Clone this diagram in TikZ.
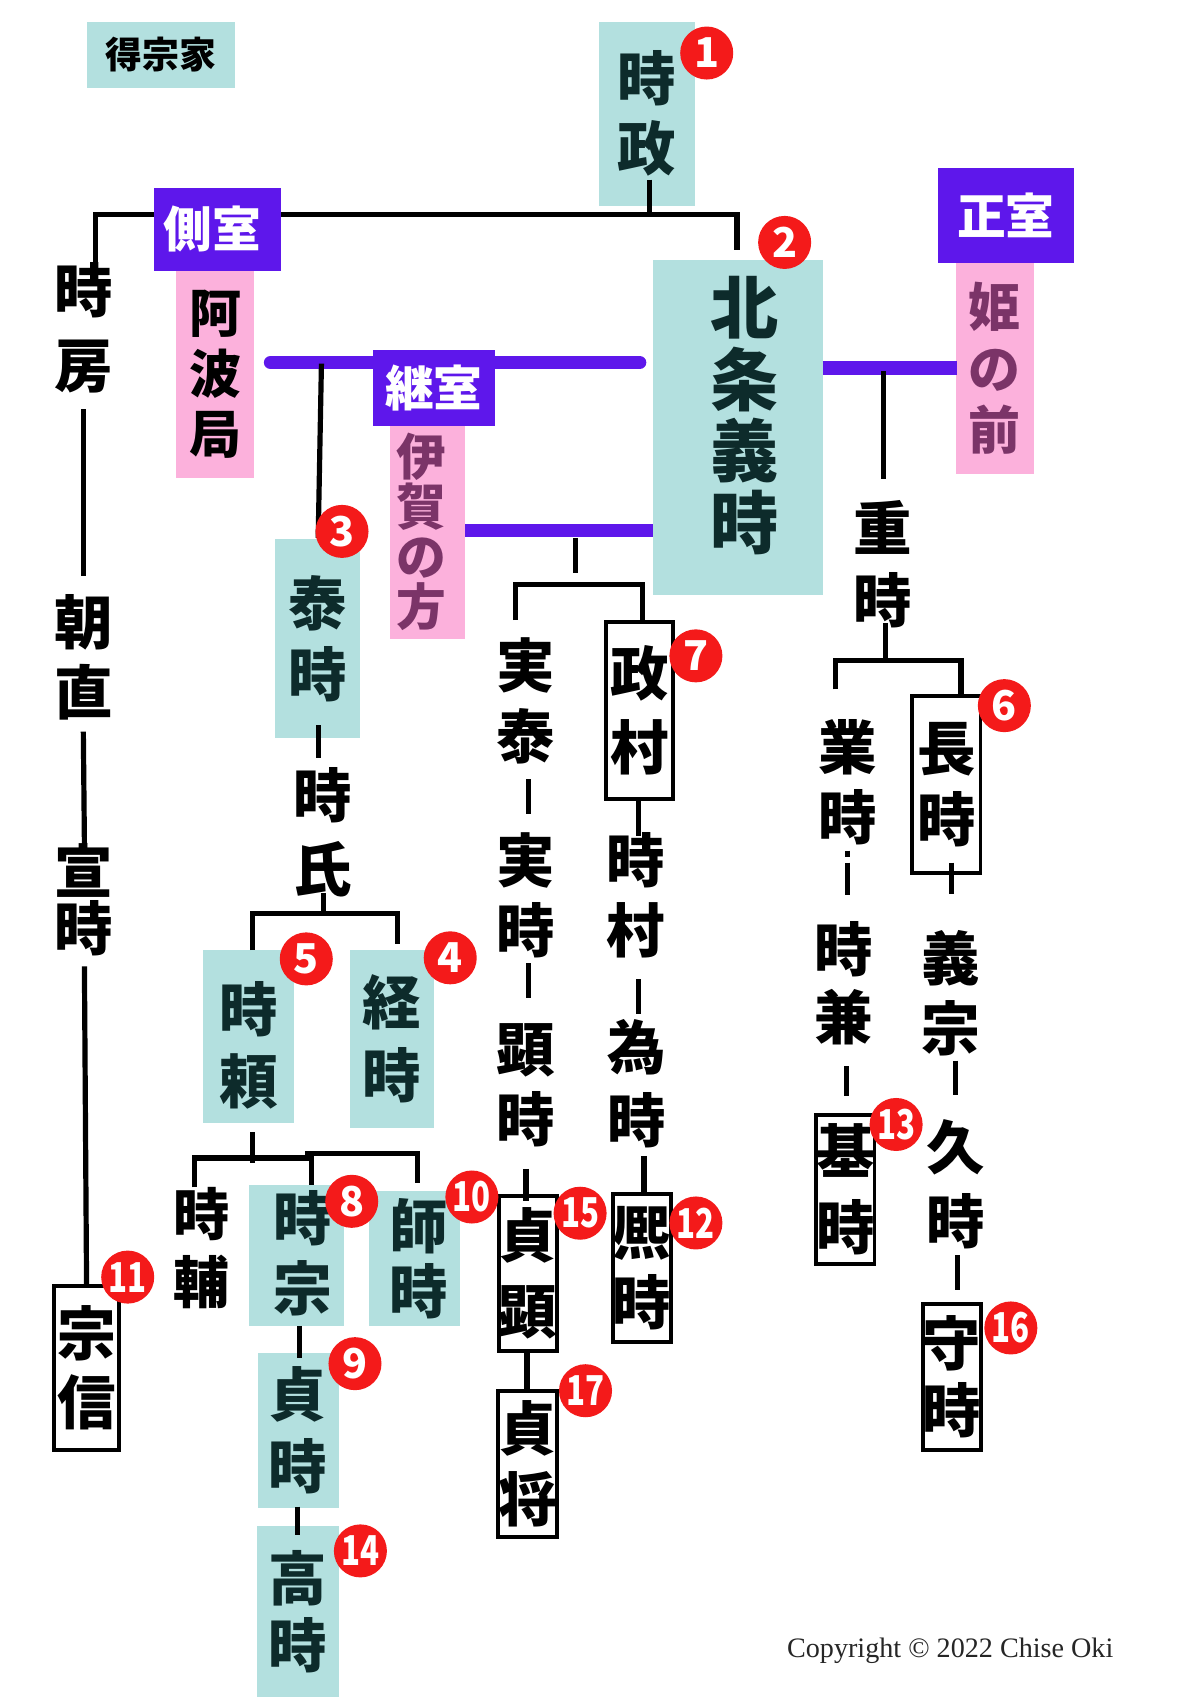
\documentclass[tikz,border=0pt]{standalone}
\usepackage{fontspec}
\setmainfont{Liberation Serif}
\newfontfamily\jp{Noto Sans CJK JP}
\definecolor{tealc}{HTML}{B3E0DF}
\definecolor{tealtext}{HTML}{0D2B2B}
\definecolor{pinkc}{HTML}{FCB1DC}
\definecolor{pinktext}{HTML}{7B3468}
\definecolor{purpc}{HTML}{5E17EB}
\definecolor{badgered}{HTML}{F41A1A}
\tikzset{
  fs/.style 2 args={font=\jp\bfseries\fontsize{#1}{#2}\selectfont},
  tealbox/.style={fill=tealc, inner sep=0pt, align=center, text=tealtext},
  pinkbox/.style={fill=pinkc, inner sep=0pt, align=center, text=pinktext},
  purpbox/.style={fill=purpc, inner sep=0pt, align=center, text=white},
  nm/.style={inner sep=0pt, align=center, text=black},
  framed/.style={draw=black, line width=1.8pt, inner sep=0pt, align=center, text=black},
  badge/.style={circle, fill=badgered, text=white, minimum size=24.5pt, inner sep=0pt, fs={19}{19}},
  conn/.style={line width=2.4pt, black},
  spouse/.style={line width=6.2pt, purpc},
}
\newcommand\twod[1]{\scalebox{0.76}[1]{#1}}
\begin{document}
\begin{tikzpicture}[x=0.5pt,y=-0.5pt]
\useasboundingbox (0,0) rectangle (1109,1568);
\fill[white] (0,0) rectangle (1109,1568);

% ---- coloured boxes
\node[tealbox, text=black, minimum width=68.5pt, minimum height=30.5pt, fs={17}{17}] (tokuso) at (148.5,50.5) {得宗家};
\node[tealbox, minimum width=44.5pt, minimum height=85pt, fs={27}{32.5}] (tokimasa) at (597.5,105) {時\\政};
\node[tealbox, minimum width=78.5pt, minimum height=155pt] (yoshitoki) at (681.5,395) {};
\node[nm, text=tealtext, fs={31.5}{33}] (yoshitoki-t) at (688,384) {北\\条\\義\\時};
\node[tealbox, minimum width=39.5pt, minimum height=92pt, fs={27}{33}] (yasutoki) at (293.5,590) {泰\\時};
\node[tealbox, minimum width=42pt, minimum height=80pt] (tokiyori) at (230,958) {};
\node[nm, text=tealtext, fs={27}{33.5}] (tokiyori-t) at (230,966) {時\\頼};
\node[tealbox, minimum width=39pt, minimum height=82pt, fs={27}{34}] (tsunetoki) at (362,960) {経\\時};
\node[tealbox, minimum width=44pt, minimum height=65pt] (tokimune) at (274,1160) {};
\node[nm, text=tealtext, fs={27}{32.5}] (tokimune-t) at (280,1158) {時\\宗};
\node[tealbox, minimum width=42pt, minimum height=62.5pt] (morotoki) at (383,1162.5) {};
\node[nm, text=tealtext, fs={27}{30}] (morotoki-t) at (387,1163) {師\\時};
\node[tealbox, minimum width=37.5pt, minimum height=71.5pt, fs={27}{33.5}] (sadatoki) at (275.5,1321.5) {貞\\時};
\node[tealbox, minimum width=38pt, minimum height=79pt, fs={27}{31}] (takatoki) at (275,1489) {高\\時};

\node[pinkbox, text=black, minimum width=36pt, minimum height=96pt, fs={24}{28}] (awa) at (199,346) {阿\\波\\局};
\node[pinkbox, minimum width=35pt, minimum height=98.5pt] (iga) at (395,491.5) {};
\node[nm, text=pinktext, fs={23}{23}] (iga-t) at (389,491.5) {伊\\賀\\の\\方};
\node[pinkbox, minimum width=36pt, minimum height=97.5pt, fs={24}{28.5}] (hime) at (919,340.5) {姫\\の\\前};

% ---- junction points
\coordinate (jtop) at (600,198);
\coordinate (jtl) at (88,198);
\coordinate (jtr) at (681,198);

% ---- connectors
\draw[conn] (600,166) -- (jtop);
\draw[conn] (88,245) -- (jtl) -- (jtr) -- (681,231);
\draw[conn] (77,378) -- (77,532);
\draw[conn] (77,676) -- (78,780);
\draw[conn] (78,893) -- (80,1190);

\draw[spouse, line cap=round] (250,335) -- (591,335);
\draw[spouse] (430,490) -- (603,490);
\draw[spouse] (760,340) -- (884,340);

\draw[conn] (297,336) -- (294,497);
\draw[conn] (294,670) -- (294,700);
\draw[conn] (299,825) -- (299,844);
\draw[conn] (233,878) -- (233,844) -- (367,844) -- (367,872);

\draw[conn] (233,1046) -- (233,1075);
\draw[conn] (180,1097) -- (180,1070) -- (288,1070) -- (288,1095);
\draw[conn] (282,1066) -- (386,1066) -- (386,1093);
\draw[conn] (277,1225) -- (277,1255);
\draw[conn] (275,1392) -- (275,1418);

\draw[conn] (532,497) -- (532,529);
\draw[conn] (476,573) -- (476,540) -- (594,540) -- (594,573);
\draw[conn] (488,720) -- (488,752);
\draw[conn] (488,890) -- (488,922);
\draw[conn] (486,1080) -- (486,1110);
\draw[conn] (487,1250) -- (487,1285);
\draw[conn] (590,738) -- (590,772);
\draw[conn] (590,905) -- (590,937);
\draw[conn] (595,1068) -- (595,1103);

\draw[conn] (816,343) -- (816,443);
\draw[conn] (818,576) -- (818,608);
\draw[conn] (772,637) -- (772,610) -- (888,610) -- (888,645);
\draw[conn] (783,786) -- (783,792);
\draw[conn] (783,797) -- (783,827);
\draw[conn] (782,985) -- (782,1013);
\draw[conn] (879,797) -- (879,826);
\draw[conn] (883,980) -- (883,1012);
\draw[conn] (885,1160) -- (885,1192);

% ---- purple labels
\node[purpbox, minimum width=59pt, minimum height=38pt, fs={22.5}{22.5}] (sokushitsu) at (201,212) {側室\hspace*{5pt}};
\node[purpbox, minimum width=56pt, minimum height=35.5pt, fs={22.5}{22.5}] (keishitsu) at (401,358.5) {継室};
\node[purpbox, minimum width=62.5pt, minimum height=44pt, fs={22.5}{22.5}] (seishitsu) at (929.5,199) {正室};

% ---- plain names
\node[nm, fs={27}{35}] (tokifusa) at (77,303) {時\\房};
\node[nm, fs={27}{32.5}] (tomonao) at (77,607.5) {朝\\直};
\node[nm, fs={27}{26.5}] (nobutoki) at (77,831.5) {宣\\時};
\node[nm, fs={27}{34}] (tokiuji) at (298,769) {時\\氏};
\node[nm, fs={26}{31.5}] (tokisuke) at (186,1153.5) {時\\輔};
\node[nm, fs={27}{32.5}] (saneyasu) at (486,647.5) {実\\泰};
\node[nm, fs={27}{32.5}] (sanetoki) at (486,827.5) {実\\時};
\node[nm, fs={27}{32.5}] (akitoki) at (486,1002.5) {顕\\時};
\node[nm, fs={27}{32.5}] (tokimura) at (587,827.5) {時\\村};
\node[nm, fs={27}{33.5}] (tametoki) at (588,1001.5) {為\\時};
\node[nm, fs={27}{33.5}] (shigetoki) at (816,521.5) {重\\時};
\node[nm, fs={27}{32.5}] (naritoki) at (783,722.5) {業\\時};
\node[nm, fs={27}{31.5}] (tokikane) at (780,908.5) {時\\兼};
\node[nm, fs={27}{32.5}] (yoshimune) at (878,917.5) {義\\宗};
\node[nm, fs={27}{34}] (hisatoki) at (883,1094) {久\\時};

% ---- framed names
\node[framed, minimum width=30pt, minimum height=76pt, fs={27}{32}] (munenobu) at (80,1264) {宗\\信};
\node[framed, minimum width=27pt, minimum height=71.5pt, fs={27}{35}] (sadaaki) at (488,1176.5) {貞\\顕};
\node[framed, minimum width=26.5pt, minimum height=67.5pt, fs={27}{32.5}] (sadayuki) at (487.5,1352.5) {貞\\将};
\node[framed, minimum width=31pt, minimum height=81.5pt, fs={27}{34}] (masamura) at (591,656.5) {政\\村};
\node[framed, minimum width=27pt, minimum height=68.5pt, fs={27}{32.5}] (hirotoki) at (593,1171.5) {熈\\時};
\node[framed, minimum width=27pt, minimum height=69pt, fs={27}{35}] (mototoki) at (781,1099) {基\\時};
\node[framed, minimum width=31.5pt, minimum height=82pt, fs={27}{32.5}] (nagatoki) at (874.5,725) {長\\時};
\node[framed, minimum width=26.5pt, minimum height=67.5pt, fs={27}{31}] (moritoki) at (879.5,1272.5) {守\\時};

% ---- badges
\node[badge] (b1) at (653,49) {1};
\node[badge] (b2) at (725,224) {2};
\node[badge] (b3) at (316,491) {3};
\node[badge] (b4) at (416,885) {4};
\node[badge] (b5) at (283,886) {5};
\node[badge] (b6) at (928,652) {6};
\node[badge] (b7) at (643,606) {7};
\node[badge] (b8) at (325,1110) {8};
\node[badge] (b9) at (328,1260) {9};
\node[badge] (b10) at (436,1106) {\twod{10}};
\node[badge] (b11) at (118,1180) {\twod{11}};
\node[badge] (b12) at (643,1130) {\twod{12}};
\node[badge] (b13) at (828,1039) {\twod{13}};
\node[badge] (b14) at (333,1433) {\twod{14}};
\node[badge] (b15) at (536,1121) {\twod{15}};
\node[badge] (b16) at (934,1227) {\twod{16}};
\node[badge] (b17) at (541,1285) {\twod{17}};

% ---- copyright
\node[inner sep=0pt, text=black!85, font=\fontsize{13}{13}\selectfont] (copyright) at (878,1525) {Copyright © 2022 Chise Oki};
\end{tikzpicture}
\end{document}
